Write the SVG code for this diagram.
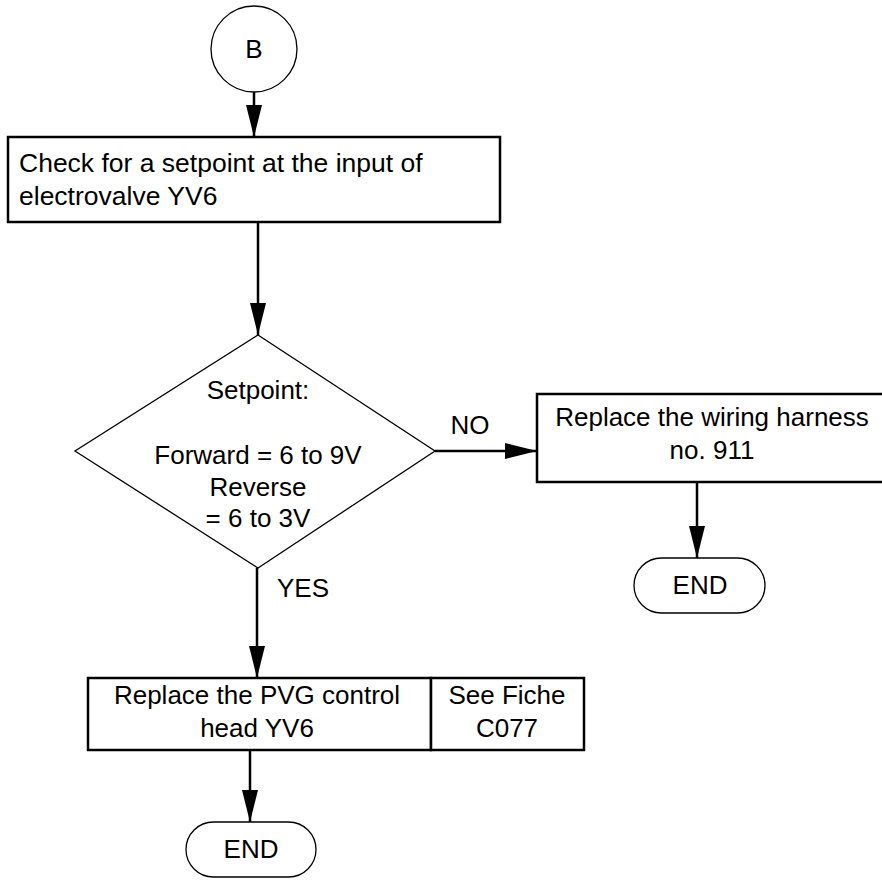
<svg xmlns="http://www.w3.org/2000/svg" width="882" height="880" viewBox="0 0 882 880">
<style>
.t{font-family:"Liberation Sans",Arial,sans-serif;font-size:26px;fill:#000}
.c{text-anchor:middle}
.big{font-size:26.5px}
.thin{fill:#fff;stroke:#000;stroke-width:1.3}
.box{fill:#fff;stroke:#000;stroke-width:2.5}
.conn{fill:none;stroke:#000;stroke-width:2.5}
</style>
<defs>
<marker id="ah" markerUnits="userSpaceOnUse" markerWidth="34" markerHeight="18" refX="32" refY="8" orient="auto">
<path d="M0,0 L32,8 L0,16 z" fill="#000"/>
</marker>
</defs>
<g id="connectors">
<line class="conn" x1="254" y1="92" x2="254" y2="137" marker-end="url(#ah)"/>
<line class="conn" x1="258" y1="222" x2="258" y2="335" marker-end="url(#ah)"/>
<line class="conn" x1="435" y1="451" x2="537" y2="451" marker-end="url(#ah)"/>
<line class="conn" x1="697" y1="482" x2="697" y2="558" marker-end="url(#ah)"/>
<line class="conn" x1="257" y1="568" x2="257" y2="678" marker-end="url(#ah)"/>
<line class="conn" x1="250" y1="750" x2="250" y2="822" marker-end="url(#ah)"/>
<text class="t c" x="470" y="434">NO</text>
<text class="t" x="277" y="597">YES</text>
</g>
<g id="start">
<circle class="thin" cx="254" cy="49" r="43"/>
<text class="t c" x="254" y="58">B</text>
</g>
<g id="check">
<rect class="box" x="8" y="137" width="492" height="85"/>
<text class="t big" x="19" y="172">Check for a setpoint at the input of</text>
<text class="t big" x="19" y="205">electrovalve YV6</text>
</g>
<g id="decision">
<polygon class="thin" points="258,335 435,451 258,568 75,451"/>
<text class="t c" x="258" y="399">Setpoint:</text>
<text class="t c" x="258" y="464">Forward = 6 to 9V</text>
<text class="t c" x="258" y="496">Reverse</text>
<text class="t c" x="258" y="527">= 6 to 3V</text>
</g>
<g id="harness">
<rect class="box" x="537" y="394" width="348" height="88"/>
<text class="t c" x="712" y="426">Replace the wiring harness</text>
<text class="t c" x="712" y="459">no. 911</text>
</g>
<g id="end1">
<rect class="thin" x="634" y="558" width="131" height="55" rx="27.5"/>
<text class="t c" x="700" y="594">END</text>
</g>
<g id="pvg">
<rect class="box" x="88" y="678" width="343" height="72"/>
<text class="t c" x="257" y="704">Replace the PVG control</text>
<text class="t c" x="257" y="737">head YV6</text>
</g>
<g id="fiche">
<rect class="box" x="431" y="678" width="153" height="72"/>
<text class="t c" x="507" y="704">See Fiche</text>
<text class="t c" x="507" y="737">C077</text>
</g>
<g id="end2">
<rect class="thin" x="186" y="822" width="130" height="55" rx="27.5"/>
<text class="t c" x="251" y="858">END</text>
</g>
</svg>
